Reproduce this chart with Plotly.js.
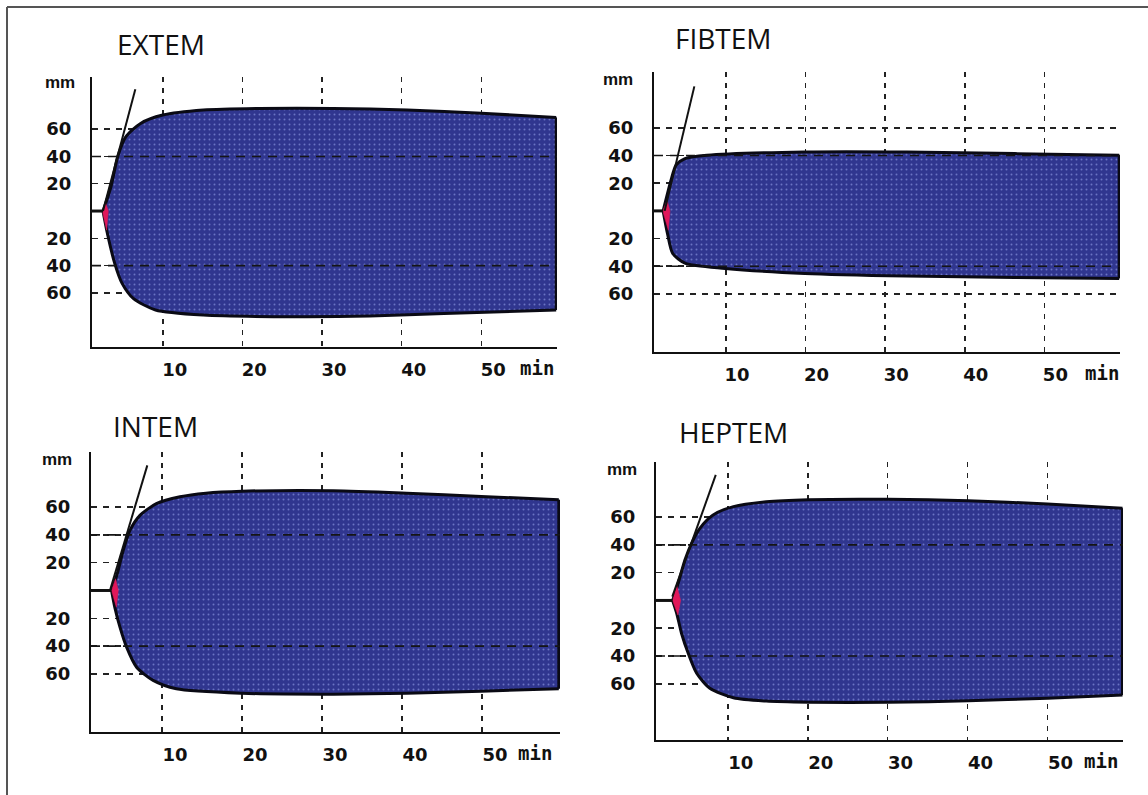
<!DOCTYPE html>
<html>
<head>
<meta charset="utf-8">
<script src="https://cdn.plot.ly/plotly-3.0.1.min.js"></script>
<style>
html,body{margin:0;padding:0;background:#ffffff;}
#chart{width:1148px;height:795px;}
</style>
</head>
<body>
<div id="chart"></div>
<script>
// ---------------- data (time in min, amplitude in mm) ----------------
const panelNames = ['EXTEM', 'FIBTEM', 'INTEM', 'HEPTEM'];
const xTickVals = [10, 20, 30, 40, 50];
const xTickText = ['10', '20', '30', '40', '50'];
const yTickVals = [60, 40, 20, -20, -40, -60];
const yTickText = ['60', '40', '20', '20', '40', '60'];
const overlayGridMM = [40, -40];

// EXTEM
const extemUpperT  = [2.5, 3.5, 4.34, 5.36, 7.22, 10.0, 15.1, 22.1, 31.4, 40.7, 50.0, 59.4];
const extemUpperMM = [0, 17.8, 39.8, 54.4, 64.2, 70.3, 74.0, 75.2, 75.2, 74.0, 71.6, 68.6];
const extemLowerT  = [2.5, 3.04, 3.97, 4.9, 6.3, 9.1, 15.1, 26.7, 36.0, 45.3, 59.4];
const extemLowerMM = [0, -16.1, -38.3, -53.0, -64.0, -72.5, -76.2, -77.4, -76.9, -75.0, -72.5];
const extemRedT    = [2.42, 2.85, 3.17, 2.95, 2.42];
const extemRedMM   = [0, 5.6, 0, -14, 0];
const extemTangentT  = [2.5, 6.56];
const extemTangentMM = [0, 89.2];

// FIBTEM
const fibtemUpperT  = [2.1, 3.09, 3.72, 4.85, 7.6, 19.9, 32.7, 46.3, 59.4];
const fibtemUpperMM = [0, 22.2, 33.0, 37.8, 40.2, 42.6, 42.6, 41.4, 40.2];
const fibtemLowerT  = [2.1, 2.64, 3.3, 4.9, 9.9, 19.9, 32.7, 46.3, 59.4];
const fibtemLowerMM = [0, -16.3, -30.8, -38.0, -41.6, -45.2, -47.1, -48.1, -48.8];
const fibtemRedT    = [2.05, 2.6, 2.96, 2.75, 2.05];
const fibtemRedMM   = [0, 7.7, 0, -14, 0];
const fibtemTangentT  = [2.29, 6.02];
const fibtemTangentMM = [0, 90];

// INTEM
const intemUpperT  = [3.7, 4.41, 5.16, 6.0, 7.25, 9.3, 12.25, 15.5, 20.0, 31.4, 40.6, 49.9, 59.6];
const intemUpperMM = [0, 12.0, 28.8, 43.2, 54.0, 62.4, 67.4, 70.0, 71.4, 71.8, 70.0, 67.6, 65.3];
const intemLowerT  = [3.7, 4.1, 4.75, 5.58, 6.83, 8.9, 11.8, 20.0, 31.4, 40.6, 49.9, 59.6];
const intemLowerMM = [0, -12.0, -26.4, -40.8, -55.2, -64.7, -70.7, -73.9, -74.6, -73.9, -72.4, -70.7];
const intemRedT    = [3.7, 4.2, 4.54, 4.3, 3.7];
const intemRedMM   = [0, 8.4, 0, -12, 0];
const intemTangentT  = [3.5, 8.17];
const intemTangentMM = [0, 90];

// HEPTEM
const heptemUpperT  = [3.09, 3.79, 4.63, 5.46, 6.5, 8.16, 10.7, 14.8, 20.1, 30.1, 40.1, 50.0, 59.4];
const heptemUpperMM = [0, 12.4, 29.1, 41.1, 51.9, 61.5, 67.5, 71.0, 72.5, 72.8, 71.8, 69.4, 66.3];
const heptemLowerT  = [3.09, 3.6, 4.2, 5.04, 6.1, 7.75, 10.7, 14.8, 20.1, 30.1, 40.1, 50.0, 59.4];
const heptemLowerMM = [0, -9.2, -23.6, -38.0, -52.4, -63.2, -70.0, -72.4, -73.2, -73.3, -72.2, -70.3, -68.0];
const heptemRedT    = [3.09, 3.6, 4.09, 3.75, 3.09];
const heptemRedMM   = [0, 11, 0, -10.4, 0];
const heptemTangentT  = [3.05, 8.49];
const heptemTangentMM = [2.7, 90.3];

// ---------------- layout geometry (pixels of the 1148x795 page) ----------------
const W = 1148, H = 795;
const panels = [
  {name: panelNames[0], up: [extemUpperT, extemUpperMM], lo: [extemLowerT, extemLowerMM], red: [extemRedT, extemRedMM], tan: [extemTangentT, extemTangentMM],
   px: [92, 557], py: [77, 347], xr: [1.12, 59.5], yr: [-99.6, 98.2], shift: 12, title: [115, 44], mm: [60, 83], minX: 537},
  {name: panelNames[1], up: [fibtemUpperT, fibtemUpperMM], lo: [fibtemLowerT, fibtemLowerMM], red: [fibtemRedT, fibtemRedMM], tan: [fibtemTangentT, fibtemTangentMM],
   px: [654, 1120], py: [72, 352], xr: [0.95, 59.5], yr: [-102, 100.4], shift: 11, title: [673, 38], mm: [618, 80], minX: 1102},
  {name: panelNames[2], up: [intemUpperT, intemUpperMM], lo: [intemLowerT, intemLowerMM], red: [intemRedT, intemRedMM], tan: [intemTangentT, intemTangentMM],
   px: [91, 560], py: [452, 732], xr: [1.13, 59.75], yr: [-101.8, 99.6], shift: 13, title: [111, 426], mm: [57, 459], minX: 535},
  {name: panelNames[3], up: [heptemUpperT, heptemUpperMM], lo: [heptemLowerT, heptemLowerMM], red: [heptemRedT, heptemRedMM], tan: [heptemTangentT, heptemTangentMM],
   px: [656, 1123], py: [462, 740], xr: [1.01, 59.46], yr: [-100.4, 99.6], shift: 13, title: [677, 432], mm: [622, 469], minX: 1101}
];

const FILL = '#30368f';
const BORDER = '#0a0a14';
const RED = '#e0185a';
const tickFont = {family: 'DejaVu Sans, sans-serif', size: 18, color: '#111', weight: 'bold'};

const traces = [];
const layout = {
  width: W, height: H,
  margin: {l: 0, r: 0, t: 0, b: 0},
  paper_bgcolor: '#ffffff',
  plot_bgcolor: 'rgba(0,0,0,0)',
  showlegend: false,
  hovermode: false,
  annotations: [],
  shapes: [
    {type: 'line', xref: 'paper', yref: 'paper', x0: 7 / W, x1: 1, y0: 1 - 7 / H, y1: 1 - 7 / H, line: {color: '#555', width: 2}},
    {type: 'line', xref: 'paper', yref: 'paper', x0: 7 / W, x1: 7 / W, y0: 0, y1: 1 - 7 / H, line: {color: '#555', width: 2}}
  ]
};

panels.forEach((p, i) => {
  const n = i + 1;
  const xa = n === 1 ? 'x' : 'x' + n;
  const ya = n === 1 ? 'y' : 'y' + n;
  const xKey = n === 1 ? 'xaxis' : 'xaxis' + n;
  const yKey = n === 1 ? 'yaxis' : 'yaxis' + n;

  layout[xKey] = {
    domain: [p.px[0] / W, p.px[1] / W], range: p.xr, anchor: ya,
    tickmode: 'array', tickvals: xTickVals, ticktext: xTickText,
    showgrid: true, gridcolor: '#222', gridwidth: 1.6, griddash: '5px,6px',
    showline: true, linecolor: '#111', linewidth: 2, zeroline: false,
    ticks: '', ticklabelshift: p.shift, ticklabelstandoff: 5,
    tickfont: tickFont, fixedrange: true
  };
  layout[yKey] = {
    domain: [1 - p.py[1] / H, 1 - p.py[0] / H], range: p.yr, anchor: xa,
    tickmode: 'array', tickvals: yTickVals, ticktext: yTickText,
    showgrid: true, gridcolor: '#222', gridwidth: 1.5, griddash: '6px,6px',
    showline: true, linecolor: '#111', linewidth: 2, zeroline: false,
    ticks: '', ticklabelstandoff: 15,
    tickfont: tickFont, fixedrange: true
  };

  // upper envelope (no fill) and lower envelope filled to the upper one
  traces.push({type: 'scatter', mode: 'lines', x: p.up[0], y: p.up[1], xaxis: xa, yaxis: ya,
    line: {color: BORDER, width: 3, shape: 'spline', smoothing: 0.7}});
  traces.push({type: 'scatter', mode: 'lines', x: p.lo[0], y: p.lo[1], xaxis: xa, yaxis: ya,
    fill: 'tonexty', fillcolor: FILL,
    fillpattern: {shape: '.', bgcolor: FILL, fgcolor: '#6a74c4', size: 5, solidity: 0.12, fillmode: 'replace'},
    line: {color: BORDER, width: 3, shape: 'spline', smoothing: 0.7}});
  // right closing edge
  const ue = p.up[0].length - 1, le = p.lo[0].length - 1;
  traces.push({type: 'scatter', mode: 'lines', x: [p.up[0][ue], p.lo[0][le]], y: [p.up[1][ue], p.lo[1][le]], xaxis: xa, yaxis: ya,
    line: {color: BORDER, width: 3}});
  // horizontal dashed lines at +/-40 drawn over the trace
  const ox = [], oy = [];
  overlayGridMM.forEach(v => { ox.push(p.xr[0], p.xr[1], null); oy.push(v, v, null); });
  traces.push({type: 'scatter', mode: 'lines', x: ox, y: oy, xaxis: xa, yaxis: ya,
    line: {color: '#151515', width: 1.6, dash: '9px,7px'}});
  // red onset (clotting time) sliver
  traces.push({type: 'scatter', mode: 'lines', x: p.red[0], y: p.red[1], xaxis: xa, yaxis: ya,
    fill: 'toself', fillcolor: RED, line: {color: RED, width: 0.5}});
  // baseline before clotting
  traces.push({type: 'scatter', mode: 'lines', x: [p.xr[0], p.up[0][0]], y: [p.up[1][0], p.up[1][0]], xaxis: xa, yaxis: ya,
    line: {color: '#111', width: 3}});
  // alpha-angle tangent
  traces.push({type: 'scatter', mode: 'lines', x: p.tan[0], y: p.tan[1], xaxis: xa, yaxis: ya,
    line: {color: '#111', width: 2}});

  // texts
  layout.annotations.push({text: p.name, xref: 'paper', yref: 'paper', x: p.title[0] / W, y: 1 - p.title[1] / H,
    xanchor: 'left', yanchor: 'middle', showarrow: false,
    font: {family: 'Open Sans, sans-serif', size: 28, color: '#111'}});
  layout.annotations.push({text: 'mm', xref: 'paper', yref: 'paper', x: p.mm[0] / W, y: 1 - p.mm[1] / H,
    xanchor: 'center', yanchor: 'middle', showarrow: false,
    font: {family: 'Liberation Sans, sans-serif', size: 17, color: '#111', weight: 'bold'}});
  layout.annotations.push({text: 'min', xref: 'paper', yref: 'paper', x: p.minX / W, y: 1 - (p.py[1] + 21) / H,
    xanchor: 'center', yanchor: 'middle', showarrow: false,
    font: {family: 'DejaVu Sans Mono, monospace', size: 19, color: '#111', weight: 'bold'}});
});

Plotly.newPlot('chart', traces, layout, {staticPlot: true, displayModeBar: false});
</script>
</body>
</html>
